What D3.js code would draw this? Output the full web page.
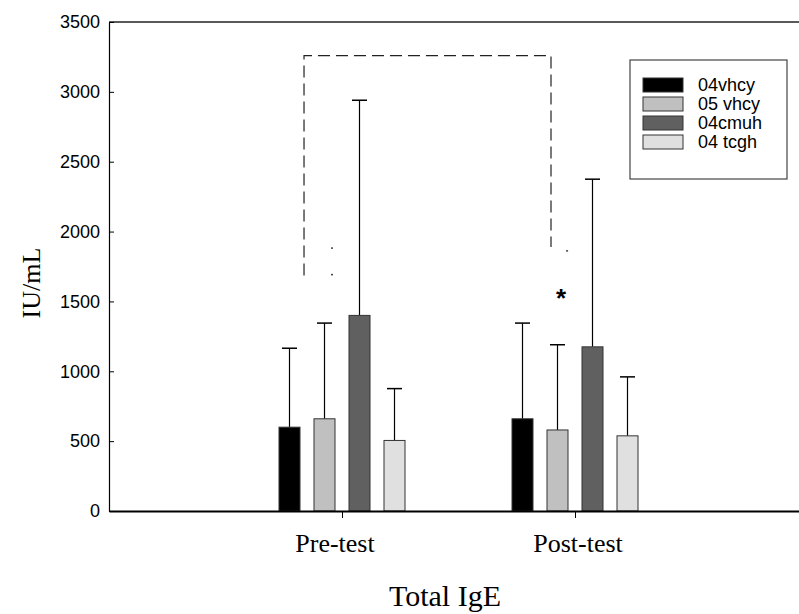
<!DOCTYPE html>
<html lang="en">
<head>
	<meta charset="utf-8">
	<title>Total IgE</title>
	<script src="https://cdn.jsdelivr.net/npm/d3@7"></script>
	<style>
		body { margin: 0; background: #fff; }
		svg { display: block; }
	</style>
</head>
<body>
<div id="chart"></div>
<script>

	// categories, series and values
	var groups = ["Pre-test", "Post-test"];
	var series = ["04vhcy", "05 vhcy", "04cmuh", "04 tcgh"];
	var seriesColors = ["#000000", "#c0c0c0", "#606060", "#e0e0e0"];
	var means = [
		[600, 660, 1400, 505],   // Pre-test
		[660, 580, 1175, 538]    // Post-test
	];
	var errTops = [
		[1165, 1345, 2940, 876],
		[1345, 1190, 2375, 960]
	];
	var yTicks = [0, 500, 1000, 1500, 2000, 2500, 3000, 3500];

	// significance bracket (x in group units, y in IU/mL)
	var bracketX = [0.837, 1.897];
	var bracketTop = 3260;
	var bracketBottoms = [1685, 1890];
	var starPos = [1.94, 1557];
	// stray specks near the bracket ends
	var specks = [[0.957, 1880], [0.957, 1690], [1.966, 1860]];

	var width = 799, height = 614;
	var plot = {left: 109, right: 808, top: 22, bottom: 511};

	var svg = d3.select("#chart").append("svg")
		.attr("width", width)
		.attr("height", height);

	// x: groups sit at 1 and 2 on a 0..3 scale
	var xScale = d3.scaleLinear().domain([0, 3]).range([plot.left, plot.right]);
	var yScale = d3.scaleLinear().domain([0, 3500]).range([plot.bottom, plot.top]);
	var offset = d3.scaleBand().domain(series).range([-63, 63]).paddingInner(0.4).paddingOuter(0);

	// top frame line
	svg.append("line")
		.attr("x1", plot.left).attr("x2", plot.right)
		.attr("y1", plot.top).attr("y2", plot.top)
		.attr("stroke", "#222").attr("stroke-width", 1.5);

	// bars
	var bars = [];
	groups.forEach(function(g, gi) {
		series.forEach(function(s, si) {
			bars.push({group: gi + 1, s: s, si: si, v: means[gi][si], e: errTops[gi][si]});
		});
	});

	function cx(d) { return xScale(d.group) + offset(d.s) + offset.bandwidth() / 2; }

	var barG = svg.append("g");
	// error bars first so the bar sits on top
	barG.selectAll("line.err").data(bars).enter().append("line")
		.attr("class", "err")
		.attr("x1", cx).attr("x2", cx)
		.attr("y1", function(d) { return yScale(d.v); })
		.attr("y2", function(d) { return yScale(d.e); })
		.attr("stroke", "#000").attr("stroke-width", 1.2);
	barG.selectAll("line.cap").data(bars).enter().append("line")
		.attr("class", "cap")
		.attr("x1", function(d) { return cx(d) - 7.5; })
		.attr("x2", function(d) { return cx(d) + 7.5; })
		.attr("y1", function(d) { return yScale(d.e); })
		.attr("y2", function(d) { return yScale(d.e); })
		.attr("stroke", "#000").attr("stroke-width", 1.5);
	barG.selectAll("rect").data(bars).enter().append("rect")
		.attr("x", function(d) { return xScale(d.group) + offset(d.s); })
		.attr("y", function(d) { return yScale(d.v); })
		.attr("width", offset.bandwidth())
		.attr("height", function(d) { return yScale(0) - yScale(d.v); })
		.attr("fill", function(d) { return seriesColors[d.si]; })
		.attr("stroke", "#333").attr("stroke-width", 1);

	// y axis, ticks pointing inward
	var yAxis = d3.axisLeft(yScale).tickValues(yTicks).tickFormat(d3.format("d"))
		.tickSizeInner(-5).tickSizeOuter(0).tickPadding(9);
	var yG = svg.append("g")
		.attr("transform", "translate(" + plot.left + ",0)")
		.call(yAxis);
	yG.select(".domain").attr("stroke", "#000").attr("stroke-width", 1.2);
	yG.selectAll("text").attr("font-family", "Liberation Sans, Arial, sans-serif")
		.attr("font-size", 18).attr("fill", "#000");

	// x axis
	var xAxis = d3.axisBottom(xScale).tickValues([1, 2]).tickSizeInner(7).tickSizeOuter(0)
		.tickFormat(function() { return ""; });
	var xG = svg.append("g")
		.attr("transform", "translate(0," + plot.bottom + ")")
		.call(xAxis);
	xG.select(".domain").attr("stroke", "#000").attr("stroke-width", 2);

	// category labels
	svg.selectAll("text.cat").data(groups).enter().append("text")
		.attr("class", "cat")
		.attr("x", function(d, i) { return xScale(i + 1) + (i === 0 ? -7 : 3); })
		.attr("y", 552)
		.attr("text-anchor", "middle")
		.attr("font-family", "Liberation Serif, Times New Roman, serif")
		.attr("font-size", 26)
		.text(function(d) { return d; });

	svg.append("text")
		.attr("x", 445).attr("y", 606)
		.attr("text-anchor", "middle")
		.attr("font-family", "Liberation Serif, Times New Roman, serif")
		.attr("font-size", 30)
		.text("Total IgE");

	svg.append("text")
		.attr("transform", "translate(40,283) rotate(-90)")
		.attr("text-anchor", "middle")
		.attr("font-family", "Liberation Serif, Times New Roman, serif")
		.attr("font-size", 26)
		.text("IU/mL");

	// dashed bracket
	var bracket = [
		[bracketX[0], bracketBottoms[0]],
		[bracketX[0], bracketTop],
		[bracketX[1], bracketTop],
		[bracketX[1], bracketBottoms[1]]
	];
	svg.append("path")
		.attr("d", d3.line().x(function(d) { return xScale(d[0]); }).y(function(d) { return yScale(d[1]); })(bracket))
		.attr("fill", "none").attr("stroke", "#222").attr("stroke-width", 1.2)
		.attr("stroke-dasharray", "12,6");

	svg.selectAll("rect.speck").data(specks).enter().append("rect")
		.attr("class", "speck")
		.attr("x", function(d) { return xScale(d[0]) - 1; })
		.attr("y", function(d) { return yScale(d[1]) - 1; })
		.attr("width", 2).attr("height", 1.5)
		.attr("fill", "#444");

	svg.append("text")
		.attr("x", xScale(starPos[0])).attr("y", yScale(starPos[1]) + 14)
		.attr("text-anchor", "middle")
		.attr("font-family", "Liberation Sans, Arial, sans-serif")
		.attr("font-weight", "bold")
		.attr("font-size", 26)
		.text("*");

	// legend
	var legend = svg.append("g").attr("transform", "translate(630,60)");
	legend.append("rect")
		.attr("width", 157).attr("height", 119)
		.attr("fill", "#fff").attr("stroke", "#444").attr("stroke-width", 1.2);
	var items = legend.selectAll("g.item").data(series).enter().append("g")
		.attr("class", "item")
		.attr("transform", function(d, i) { return "translate(13," + (18 + i * 19) + ")"; });
	items.append("rect")
		.attr("width", 40).attr("height", 14)
		.attr("fill", function(d, i) { return seriesColors[i]; })
		.attr("stroke", "#333").attr("stroke-width", 1);
	items.append("text")
		.attr("x", 55).attr("y", 7).attr("dy", "0.35em")
		.attr("font-family", "Liberation Sans, Arial, sans-serif")
		.attr("font-size", 18)
		.text(function(d) { return d; });

</script>
</body>
</html>
